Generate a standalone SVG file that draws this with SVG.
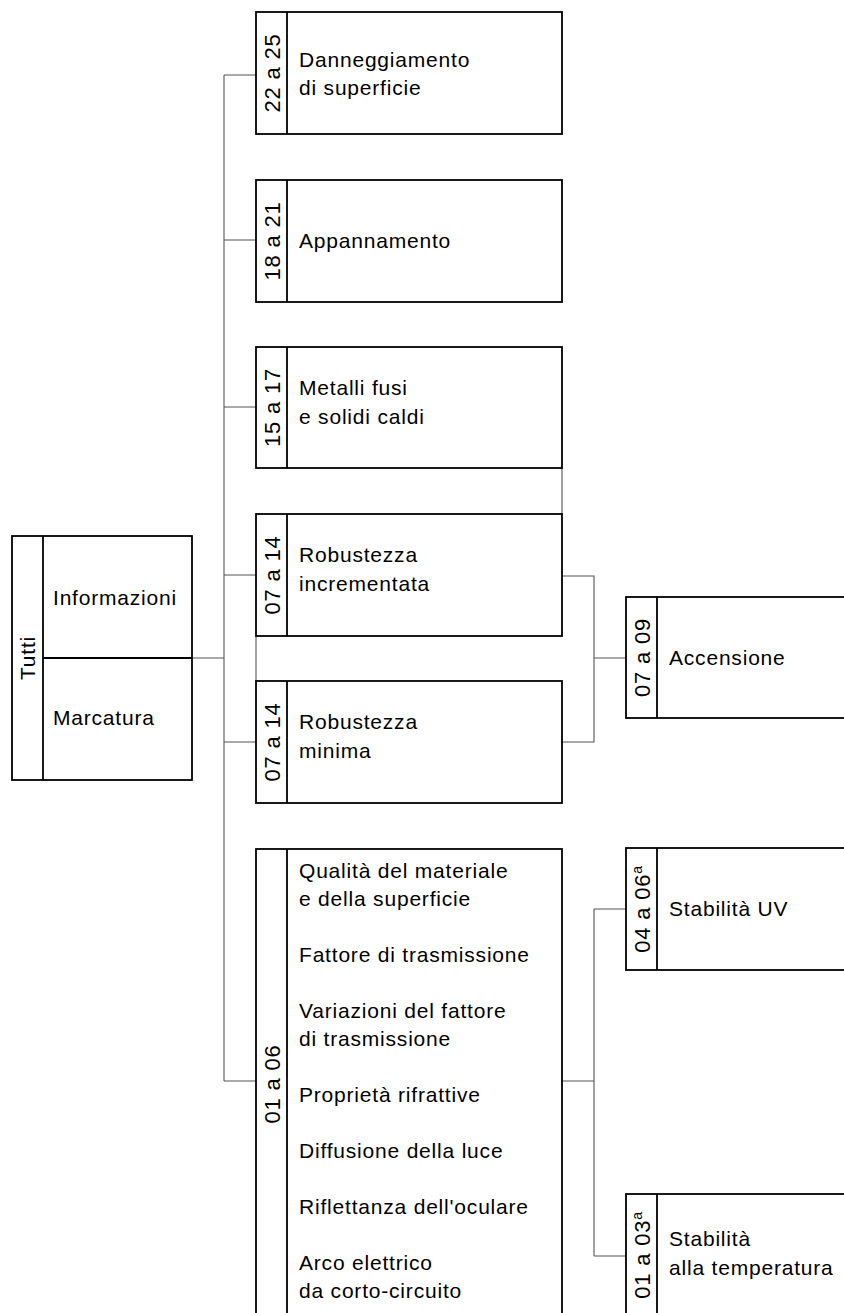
<svg xmlns="http://www.w3.org/2000/svg" width="844" height="1313" viewBox="0 0 844 1313">
<style>
.box{fill:#fff;stroke:#000;stroke-width:1.8}
.div{stroke:#000;stroke-width:1.8}
.con{fill:none;stroke:#555;stroke-width:1.1}
text{font-family:"Liberation Sans",Arial,sans-serif;font-size:21px;fill:#000;letter-spacing:0.8px}
.num{text-anchor:middle;font-size:22px}
.sup{font-size:14px}
</style>
<rect width="844" height="1313" fill="#fff"/>
<g id="connectors">
<path class="con" d="M224,75 V1081"/>
<path class="con" d="M224,75 H256 M224,240 H256 M224,407 H256 M224,575 H256 M192,658 H224 M224,742 H256 M224,1081 H256"/>
<path class="con" d="M562,468 V514 M256,636 V681"/>
<path class="con" d="M562,576 H594 V742 H562 M594,658 H626"/>
<path class="con" d="M562,1081 H594 M594,909 V1256 M594,909 H626 M594,1256 H626"/>
</g>
<g id="tutti">
<rect class="box" x="12" y="536" width="180" height="244"/>
<line class="div" x1="43" y1="536" x2="43" y2="780"/>
<line class="div" x1="43" y1="658" x2="192" y2="658"/>
<text class="num" style="font-size:21px" transform="translate(35,658) rotate(-90)">Tutti</text>
<text x="53" y="605">Informazioni</text>
<text x="53" y="725">Marcatura</text>
</g>
<g id="n22-25">
<rect class="box" x="256" y="12" width="306" height="122"/>
<line class="div" x1="287" y1="12" x2="287" y2="134"/>
<text class="num" transform="translate(280,73) rotate(-90)">22 a 25</text>
<text x="299" y="67">Danneggiamento</text>
<text x="299" y="95">di superficie</text>
</g>
<g id="n18-21">
<rect class="box" x="256" y="180" width="306" height="122"/>
<line class="div" x1="287" y1="180" x2="287" y2="302"/>
<text class="num" transform="translate(280,241) rotate(-90)">18 a 21</text>
<text x="299" y="248">Appannamento</text>
</g>
<g id="n15-17">
<rect class="box" x="256" y="347" width="306" height="121"/>
<line class="div" x1="287" y1="347" x2="287" y2="468"/>
<text class="num" transform="translate(280,407.5) rotate(-90)">15 a 17</text>
<text x="299" y="395">Metalli fusi</text>
<text x="299" y="424">e solidi caldi</text>
</g>
<g id="n07-14a">
<rect class="box" x="256" y="514" width="306" height="122"/>
<line class="div" x1="287" y1="514" x2="287" y2="636"/>
<text class="num" transform="translate(280,575) rotate(-90)">07 a 14</text>
<text x="299" y="562">Robustezza</text>
<text x="299" y="591">incrementata</text>
</g>
<g id="n07-14b">
<rect class="box" x="256" y="681" width="306" height="122"/>
<line class="div" x1="287" y1="681" x2="287" y2="803"/>
<text class="num" transform="translate(280,742) rotate(-90)">07 a 14</text>
<text x="299" y="729">Robustezza</text>
<text x="299" y="758">minima</text>
</g>
<g id="n01-06">
<rect class="box" x="256" y="849" width="306" height="470"/>
<line class="div" x1="287" y1="849" x2="287" y2="1319"/>
<text class="num" transform="translate(280,1084) rotate(-90)">01 a 06</text>
<text x="299" y="878">Qualità del materiale</text>
<text x="299" y="906">e della superficie</text>
<text x="299" y="962">Fattore di trasmissione</text>
<text x="299" y="1018">Variazioni del fattore</text>
<text x="299" y="1046">di trasmissione</text>
<text x="299" y="1102">Proprietà rifrattive</text>
<text x="299" y="1158">Diffusione della luce</text>
<text x="299" y="1214">Riflettanza dell'oculare</text>
<text x="299" y="1270">Arco elettrico</text>
<text x="299" y="1298">da corto-circuito</text>
</g>
<g id="n07-09">
<rect class="box" x="626" y="597" width="306" height="121"/>
<line class="div" x1="657" y1="597" x2="657" y2="718"/>
<text class="num" transform="translate(650,657.5) rotate(-90)">07 a 09</text>
<text x="669" y="665">Accensione</text>
</g>
<g id="n04-06">
<rect class="box" x="626" y="848" width="306" height="122"/>
<line class="div" x1="657" y1="848" x2="657" y2="970"/>
<text class="num" transform="translate(650,909) rotate(-90)">04 a 06<tspan class="sup" dy="-8">a</tspan></text>
<text x="669" y="916">Stabilità UV</text>
</g>
<g id="n01-03">
<rect class="box" x="626" y="1194" width="306" height="130"/>
<line class="div" x1="657" y1="1194" x2="657" y2="1324"/>
<text class="num" transform="translate(650,1255) rotate(-90)">01 a 03<tspan class="sup" dy="-8">a</tspan></text>
<text x="669" y="1246">Stabilità</text>
<text x="669" y="1275">alla temperatura</text>
</g>
</svg>
